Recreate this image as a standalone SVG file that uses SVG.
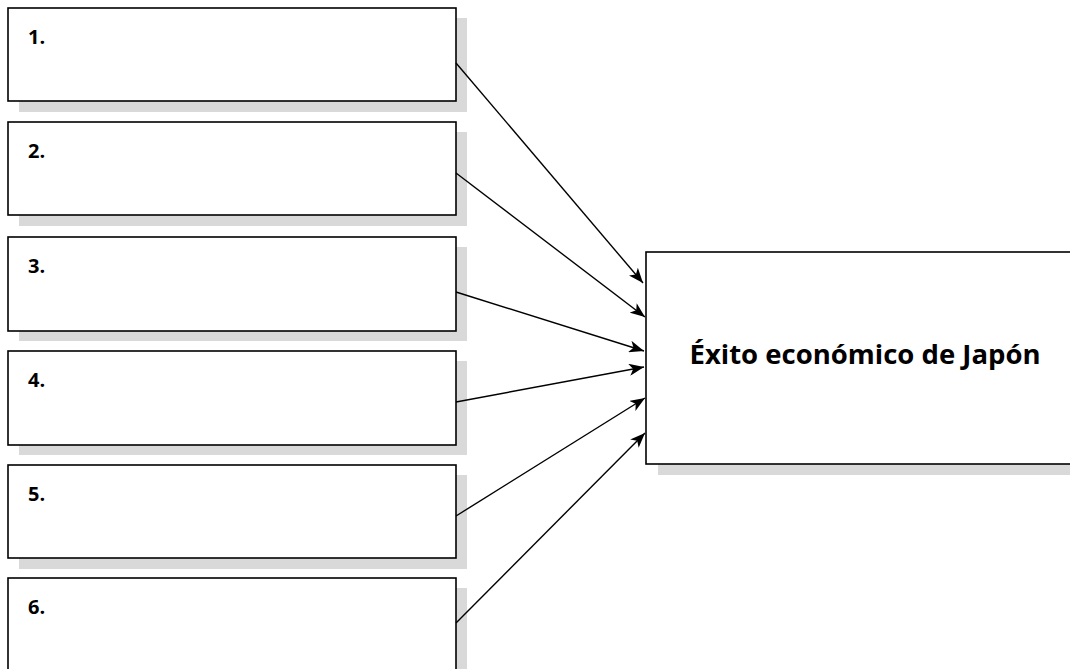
<svg xmlns="http://www.w3.org/2000/svg" width="1070" height="669" viewBox="0 0 1070 669">
<style>
.shadow{fill:#d9d9d9;stroke:none}
.box{fill:#ffffff;stroke:#000000;stroke-width:1.6}
.num{font-family:"Open Sans","Liberation Sans",sans-serif;font-weight:700;font-size:20px;fill:#000}
.title{font-family:"Open Sans","Liberation Sans",sans-serif;font-weight:700;font-size:27.5px;fill:#000}
.conn{stroke:#000;stroke-width:1.4;fill:none;marker-end:url(#arrow)}
</style>
<defs>
<marker id="arrow" markerUnits="userSpaceOnUse" markerWidth="16" markerHeight="12" refX="15" refY="6" orient="auto">
<path d="M0,0 L15,6 L0,12 L4,6 Z" fill="#000"/>
</marker>
</defs>
<rect width="1070" height="669" fill="#fff"/>
<g id="node1">
<rect class="shadow" x="19" y="18" width="448" height="94"/>
<rect class="box" x="8" y="8" width="448" height="93"/>
<text class="num" x="28" y="44">1.</text>
</g>
<g id="node2">
<rect class="shadow" x="19" y="132" width="448" height="94"/>
<rect class="box" x="8" y="122" width="448" height="93"/>
<text class="num" x="28" y="158">2.</text>
</g>
<g id="node3">
<rect class="shadow" x="19" y="247" width="448" height="94"/>
<rect class="box" x="8" y="237" width="448" height="94"/>
<text class="num" x="28" y="273">3.</text>
</g>
<g id="node4">
<rect class="shadow" x="19" y="361" width="448" height="94"/>
<rect class="box" x="8" y="351" width="448" height="94"/>
<text class="num" x="28" y="387">4.</text>
</g>
<g id="node5">
<rect class="shadow" x="19" y="475" width="448" height="94"/>
<rect class="box" x="8" y="465" width="448" height="93"/>
<text class="num" x="28" y="501">5.</text>
</g>
<g id="node6">
<rect class="shadow" x="19" y="588" width="448" height="94"/>
<rect class="box" x="8" y="578" width="448" height="94"/>
<text class="num" x="28" y="614">6.</text>
</g>
<g id="node7">
<rect class="shadow" x="658" y="262" width="420" height="213"/>
<rect class="box" x="646" y="252" width="430" height="212"/>
<text class="title" x="865" y="364" text-anchor="middle">Éxito económico de Japón</text>
</g>
<g id="connectors">
<line class="conn" x1="456" y1="63" x2="643" y2="283"/>
<line class="conn" x1="456" y1="173" x2="645" y2="317"/>
<line class="conn" x1="456" y1="292" x2="644" y2="351"/>
<line class="conn" x1="456" y1="402" x2="644" y2="367"/>
<line class="conn" x1="456" y1="516" x2="645" y2="398"/>
<line class="conn" x1="456" y1="623" x2="645" y2="433"/>
</g>
</svg>
